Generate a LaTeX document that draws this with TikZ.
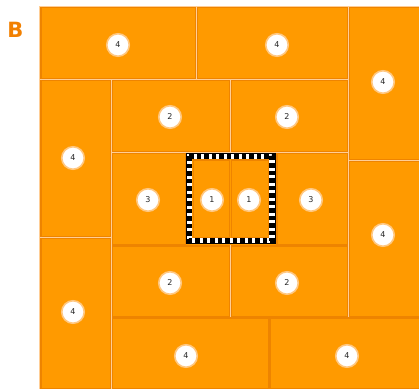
\documentclass[tikz,border=0pt]{standalone}
\usepackage{fontspec}
\setsansfont{DejaVu Sans}
\usepackage{tikz}
\usetikzlibrary{positioning}

\definecolor{tileorange}{RGB}{255,154,0}
\definecolor{tileedge}{RGB}{238,132,0}
\definecolor{gapcream}{RGB}{255,206,150}
\definecolor{ringorange}{RGB}{255,200,130}
\definecolor{letterorange}{RGB}{242,128,0}

\tikzset{
  tile/.style={fill=tileorange, draw=tileedge, line width=1.2pt},
  badge/.style={circle, fill=white, draw=ringorange, line width=1.6pt,
    minimum size=22.5pt, inner sep=0pt, text=black!85,
    font=\sffamily\fontsize{8}{8}\selectfont},
}

\begin{document}
\begin{tikzpicture}[x=1pt,y=-1pt]
  \useasboundingbox (0,0) rectangle (419,388);
  % panel letter
  \node[font=\sffamily\bfseries\fontsize{21}{21}\selectfont, text=letterorange] (panelB) at (15.5,30) {B};
  % gaps between tiles
  \fill[gapcream] (39,6) rectangle (420,389);
  % outer tiles
  \foreach \xa/\ya/\xb/\yb in {40/6.5/196.5/79.5, 196.5/6.5/348.5/79.5, 348.5/6.5/420/160.5,
      40/79.5/111.5/237.5, 40/237.5/111.5/389, 348.5/160.5/420/317,
      111.5/317/269/389, 269/317/420/389}
    \draw[tile] ({\xa+0.9},{\ya+0.9}) rectangle ({\xb-0.9},{\yb-0.9});
  % inner tiles
  \foreach \xa/\ya/\xb/\yb in {111.5/79.5/230.5/152.5, 230.5/79.5/348.5/152.5,
      111.5/152.5/186/245, 276/152.5/348.5/245,
      111.5/245/230.5/317, 230.5/245/348.5/317}
    \draw[tile] ({\xa+0.9},{\ya+0.9}) rectangle ({\xb-0.9},{\yb-0.9});
  % centre
  \fill[tileorange] (186,152.5) rectangle (276,245);
  \draw[tile] (193.5,160) rectangle (229.6,237.5);
  \draw[tile] (231.4,160) rectangle (268.5,237.5);
  \draw[white, line width=6pt] (189.3,156.3) rectangle (272.3,240.5);
  \draw[black, line width=6pt, dash pattern=on 4.5pt off 3pt] (189.3,156.3) rectangle (272.3,240.5);
  \draw[black, line width=0.6pt] (186.3,153.3) rectangle (275.3,243.5);
  % labels
  \foreach \n/\x/\y/\name in {4/118/45/top1, 4/277/45/top2, 4/383/82/right1, 4/383/235/right2,
      4/73/158/left1, 4/73/312/left2, 4/186/356/bottom1, 4/347/356/bottom2,
      2/170/117/up1, 2/287/117/up2, 2/170/283/down1, 2/287/283/down2,
      3/148/200/side1, 3/311/200/side2, 1/212/200/core1, 1/249/200/core2}
    \node[badge] (\name) at (\x,\y) {\n};
\end{tikzpicture}
\end{document}
